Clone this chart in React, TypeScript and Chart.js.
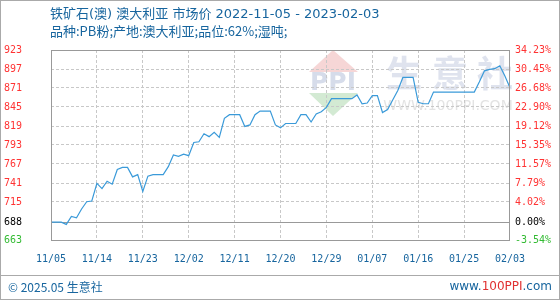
import React, { useEffect, useRef } from 'react';
import { Chart, registerables } from 'chart.js';

Chart.register(...registerables);

const titleLine1 = '铁矿石(澳) 澳大利亚 市场价 2022-11-05 - 2023-02-03';
const titleLine2 = '品种:PB粉;产地:澳大利亚;品位:62%;湿吨;';
const footerLeft = '© 2025.05 生意社';

const basePrice = 688;

const prices: number[] = [
  688, 688, 688, 685, 696, 694, 706, 716, 717, 741,
  734, 744, 740, 760, 763, 763, 750, 753, 730, 751,
  753, 753, 753, 764, 780, 778, 781, 779, 797, 798,
  809, 805, 811, 804, 830, 835, 835, 835, 819, 821,
  835, 840, 840, 840, 821, 817, 823, 823, 823, 835,
  835, 825, 836, 839, 845, 857, 857, 857, 857, 857,
  862, 850, 851, 861, 861, 838, 842, 855, 868, 886,
  886, 886, 852, 850, 850, 866, 866, 866, 866, 866,
  866, 866, 866, 866, 880, 895, 897, 898, 902, 888,
  872,
];

const dates: string[] = prices.map((_, i) => {
  const d = new Date(2022, 10, 5 + i);
  const mm = String(d.getMonth() + 1).padStart(2, '0');
  const dd = String(d.getDate()).padStart(2, '0');
  return `${mm}/${dd}`;
});

const xTickEvery = 9;

const pctTicks: number[] = [-3.54, 0, 4.02, 7.79, 11.57, 15.35, 19.12, 22.9, 26.68, 30.45, 34.23];
const leftTickLabels: string[] = ['663', '688', '715', '741', '767', '793', '819', '845', '871', '897', '923'];
const rightTickLabels: string[] = ['-3.54%', '0.00%', '4.02%', '7.79%', '11.57%', '15.35%', '19.12%', '22.90%', '26.68%', '30.45%', '34.23%'];

const RED = '#ff3333';
const GREEN = '#33bb33';
const BLACK = '#000000';
const BLUE_TEXT = '#17659e';
const LINE = '#3a9ad9';
const GRID = '#c8c8c8';
const FRAME = '#999999';

const tickValues = pctTicks.map((p) => basePrice * (1 + p / 100));
const labelColor = (i: number) => (pctTicks[i] > 0 ? RED : pctTicks[i] < 0 ? GREEN : BLACK);

const decorPlugin = {
  id: 'decor',
  beforeDraw(chart: any) {
    const ctx = chart.ctx;
    ctx.save();
    ctx.fillStyle = '#ffffff';
    ctx.fillRect(0, 0, chart.width, chart.height);
    // watermark logo
    ctx.fillStyle = '#f6d6d6';
    ctx.beginPath();
    ctx.moveTo(333, 50);
    ctx.lineTo(358, 72);
    ctx.lineTo(309, 72);
    ctx.closePath();
    ctx.fill();
    ctx.fillStyle = '#d3ead3';
    ctx.beginPath();
    ctx.moveTo(309, 93);
    ctx.lineTo(358, 93);
    ctx.lineTo(333, 116);
    ctx.closePath();
    ctx.fill();
    ctx.fillStyle = '#d6dcea';
    ctx.font = 'bold 25px "DejaVu Sans"';
    ctx.textAlign = 'center';
    ctx.textBaseline = 'middle';
    ctx.fillText('PPI', 333, 83);
    ctx.fillStyle = '#dfe3ee';
    ctx.font = 'bold 36px "Noto Sans CJK SC"';
    ctx.fillText('生', 404, 73);
    ctx.fillText('意', 450, 73);
    ctx.fillText('社', 495, 73);
    ctx.fillStyle = '#e3e3e3';
    ctx.font = '14px "DejaVu Sans"';
    ctx.fillText('WWW.100PPI.COM', 448, 106);
    ctx.restore();
  },
  afterDraw(chart: any) {
    const ctx = chart.ctx;
    const a = chart.chartArea;
    ctx.save();
    // plot frame
    ctx.strokeStyle = FRAME;
    ctx.lineWidth = 1;
    ctx.strokeRect(Math.round(a.left) + 0.5, Math.round(a.top) + 0.5, Math.round(a.right - a.left) - 1, Math.round(a.bottom - a.top));
    // titles
    ctx.fillStyle = BLUE_TEXT;
    ctx.textAlign = 'left';
    ctx.textBaseline = 'middle';
    ctx.font = '13px "DejaVu Sans", "Noto Sans CJK SC"';
    ctx.fillText(titleLine1, 50, 15);
    ctx.font = '13px "Noto Sans CJK SC"';
    ctx.fillText(titleLine2, 50, 31);
    // footer
    ctx.strokeStyle = '#aaaaaa';
    ctx.beginPath();
    ctx.moveTo(0, 275.5);
    ctx.lineTo(560, 275.5);
    ctx.stroke();
    ctx.fillStyle = BLUE_TEXT;
    ctx.font = '12px "Noto Sans CJK SC"';
    ctx.fillText(footerLeft, 8, 287);
    ctx.textAlign = 'left';
    ctx.font = '12px "DejaVu Sans"';
    const p1 = 'www.';
    const p2 = '100PPI';
    const p3 = '.com';
    const w = ctx.measureText(p1 + p2 + p3).width;
    let x = 552 - w;
    ctx.fillStyle = BLUE_TEXT;
    ctx.fillText(p1, x, 287);
    x += ctx.measureText(p1).width;
    ctx.fillStyle = '#e03030';
    ctx.fillText(p2, x, 287);
    x += ctx.measureText(p2).width;
    ctx.fillStyle = BLUE_TEXT;
    ctx.fillText(p3, x, 287);
    // outer border
    ctx.strokeStyle = '#aaaaaa';
    ctx.strokeRect(0.5, 0.5, 559, 299);
    ctx.restore();
  },
};

export default function App() {
  const ref = useRef<HTMLCanvasElement | null>(null);

  useEffect(() => {
    if (!ref.current) return;
    const chart = new Chart(ref.current, {
      type: 'line',
      data: {
        labels: dates,
        datasets: [
          {
            data: prices,
            borderColor: LINE,
            borderWidth: 1.2,
            pointRadius: 0,
            tension: 0,
            fill: false,
            yAxisID: 'y',
          },
        ],
      },
      options: {
        animation: false,
        responsive: false,
        maintainAspectRatio: false,
        devicePixelRatio: 1,
        layout: { padding: { top: 50, left: 0, right: 0, bottom: 0 } },
        plugins: {
          legend: { display: false },
          title: { display: false },
          tooltip: { enabled: false },
        },
        scales: {
          x: {
            type: 'category',
            offset: false,
            afterFit: (s: any) => {
              s.height = 60;
            },
            border: { display: false, dash: [3, 2] },
            grid: {
              drawTicks: false,
              color: (c: any) => (c.index % xTickEvery === 0 && c.index !== 0 && c.index !== prices.length - 1 ? GRID : 'rgba(0,0,0,0)'),
              lineWidth: 1,
            },
            ticks: {
              autoSkip: false,
              maxRotation: 0,
              minRotation: 0,
              padding: 13,
              color: BLUE_TEXT,
              font: { family: '"DejaVu Sans Mono"', size: 10 },
              callback: (_v: any, i: number) => (i % xTickEvery === 0 ? dates[i] : ''),
            },
          },
          y: {
            type: 'linear',
            position: 'left',
            min: tickValues[0],
            max: tickValues[tickValues.length - 1],
            afterBuildTicks: (s: any) => {
              s.ticks = tickValues.map((v) => ({ value: v }));
            },
            afterFit: (s: any) => {
              s.width = 51;
            },
            border: {
              display: false,
              dash: (c: any) => (c.tick && Math.abs(c.tick.value - basePrice) < 0.01 ? [] : [3, 2]),
            },
            grid: {
              drawTicks: false,
              color: (c: any) => (c.tick && Math.abs(c.tick.value - basePrice) < 0.01 ? FRAME : GRID),
              lineWidth: 1,
            },
            ticks: {
              padding: 29,
              font: { family: '"DejaVu Sans Mono"', size: 10 },
              color: (c: any) => labelColor(c.index),
              callback: (_v: any, i: number) => leftTickLabels[i],
            },
          },
          y2: {
            type: 'linear',
            position: 'right',
            min: tickValues[0],
            max: tickValues[tickValues.length - 1],
            afterBuildTicks: (s: any) => {
              s.ticks = tickValues.map((v) => ({ value: v }));
            },
            afterFit: (s: any) => {
              s.width = 50;
            },
            border: { display: false },
            grid: { display: false, drawTicks: false },
            ticks: {
              padding: 5,
              font: { family: '"DejaVu Sans Mono"', size: 10 },
              color: (c: any) => labelColor(c.index),
              callback: (_v: any, i: number) => rightTickLabels[i],
            },
          },
        },
      } as any,
      plugins: [decorPlugin],
    });
    return () => chart.destroy();
  }, []);

  return (
    <div style={{ position: 'absolute', left: 0, top: 0, width: 560, height: 300 }}>
      <canvas ref={ref} width={560} height={300} style={{ width: 560, height: 300, display: 'block' }} />
    </div>
  );
}
